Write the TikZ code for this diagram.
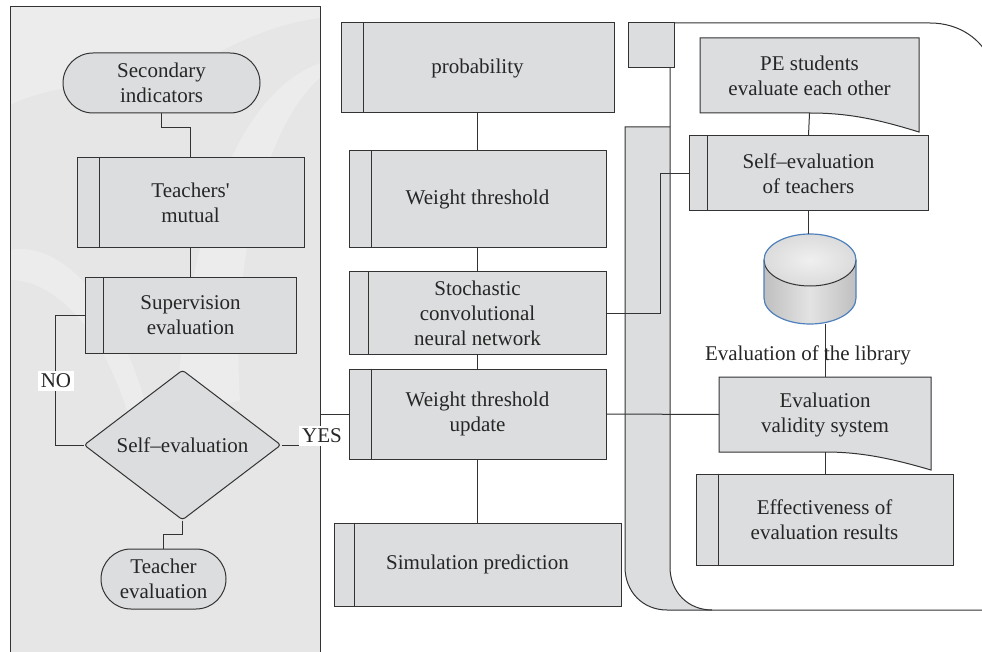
\documentclass[tikz,border=0pt]{standalone}
\usepackage{fontspec}
\setmainfont{Liberation Serif}[Ligatures=TeXOff]
\usetikzlibrary{calc,shapes.geometric}
\definecolor{linec}{HTML}{333333}
\definecolor{boxc}{HTML}{DCDDDF}
\definecolor{panelc}{HTML}{E6E6E6}
\definecolor{swc}{HTML}{ECECEC}
\definecolor{cylblue}{HTML}{4F81BD}
\tikzset{
  every node/.style={font=\fontsize{21}{25}\selectfont, text=black!85},
  ln/.style={draw=linec, line width=1pt},
  procbox/.style={ln, fill=boxc, rectangle, inner sep=0pt, align=center},
  termbox/.style={ln, fill=boxc, rectangle, rounded corners=30pt, inner sep=0pt, align=center},
  decbox/.style={ln, fill=boxc, diamond, aspect=1.31, inner sep=0pt, rounded corners=3pt, align=center},
  plain/.style={inner sep=0pt, align=center},
  lbl/.style={fill=white, inner sep=3pt},
  conn/.style={ln}
}
\begin{document}
\begin{tikzpicture}[x=1pt,y=-1pt]
\clip (0,0) rectangle (982,652);
\fill[white] (0,0) rectangle (982,652);
% left panel
\fill[panelc] (10,7) rectangle (320,670);
\begin{scope}
\clip (10,7) rectangle (320,670);
\fill[swc] (10,7) -- (10,105) .. controls (50,85) and (110,80) .. (150,95) .. controls (200,60) and (260,25) .. (320,18) -- (320,7) -- cycle;
\fill[swc] (175,420) .. controls (190,200) and (250,80) .. (330,60) -- (330,70) .. controls (270,110) and (230,250) .. (240,400) -- cycle;
\fill[swc] (10,250) .. controls (60,240) and (120,300) .. (150,420) -- (130,420) .. controls (100,320) and (50,280) .. (10,280) -- cycle;
\end{scope}
\draw[ln] (10,670) -- (10,7) -- (320,7) -- (320,670);
% right frame
\fill[boxc] (625,127) -- (670,127) -- (670,567) .. controls (670,592) and (688,610) .. (712,610) -- (667,610) .. controls (643,610) and (625,592) .. (625,567) -- cycle;
\draw[ln] (670,127) -- (625,127) -- (625,567) .. controls (625,592) and (643,610) .. (667,610) -- (990,610);
\draw[ln] (670,68) -- (670,567) .. controls (670,592) and (688,610) .. (712,610);
\draw[ln] (674,23) -- (930,23) .. controls (960,23) and (982,40) .. (990,60);
\draw[ln, fill=boxc] (628,23) rectangle (674,68);
% left column nodes
\node[termbox, minimum width=197pt, minimum height=60pt] (sec) at (161.5,83) {Secondary\\indicators};
\node[procbox, minimum width=227pt, minimum height=90pt] (tm) at (190.5,203) {Teachers'\\mutual};
\node[procbox, minimum width=211pt, minimum height=75pt] (sup) at (190.5,315.5) {Supervision\\evaluation};
\node[decbox, minimum width=197pt, minimum height=150pt] (self) at (182.5,445) {Self–evaluation};
\node[termbox, minimum width=125pt, minimum height=60pt] (teach) at (163.5,579) {Teacher\\evaluation};
% middle column
\node[procbox, minimum width=273pt, minimum height=90pt] (prob) at (477.5,68) {probability};
\node[procbox, minimum width=257pt, minimum height=97pt] (wt) at (477.5,199.5) {Weight threshold};
\node[procbox, minimum width=257pt, minimum height=82pt] (scnn) at (477.5,313) {Stochastic\\convolutional\\neural network};
\node[procbox, minimum width=257pt, minimum height=90pt] (wtu) at (477.5,414) {Weight threshold\\update};
\node[procbox, minimum width=287pt, minimum height=83pt] (sim) at (477.5,564.5) {Simulation prediction};
% right column
\draw[ln, fill=boxc] (700,38) -- (919,38) -- (919,132) .. controls (880,120) and (850,113) .. (810,113) -- (700,113) -- cycle;
\node[plain, minimum width=219pt, minimum height=75pt] (pe) at (809.5,75.5) {PE students\\evaluate each other};
\node[procbox, minimum width=239pt, minimum height=75pt] (setch) at (808.5,173.5) {Self–evaluation\\of teachers};
% cylinder
\shade[left color=gray!50, right color=gray!50, middle color=gray!22] (764,260) -- (764,298) arc[start angle=180, end angle=0, x radius=46, y radius=26] -- (856,260) -- cycle;
\shade[inner color=gray!12, outer color=gray!28] (810,260) ellipse[x radius=46, y radius=26];
\draw[linec, line width=1pt] (764,260) arc[start angle=180, end angle=0, x radius=46, y radius=26];
\draw[cylblue, line width=1.2pt] (764,260) -- (764,298) arc[start angle=180, end angle=0, x radius=46, y radius=26] -- (856,260) arc[start angle=0, end angle=-180, x radius=46, y radius=26];
\node[plain, minimum width=92pt, minimum height=90pt] (db) at (810,279) {};
\draw[ln, fill=boxc] (719,377) -- (931,377) -- (931,470) .. controls (890,458) and (860,452) .. (825,452) -- (719,452) -- cycle;
\node[plain, minimum width=212pt, minimum height=75pt] (evs) at (825,414.5) {Evaluation\\validity system};
\node[procbox, minimum width=257pt, minimum height=91pt] (eff) at (824.5,519.5) {Effectiveness of\\evaluation results};
% dividers
\foreach \n/\d in {tm/23, sup/19, prob/23, wt/23, scnn/20, wtu/23, sim/21, setch/19, eff/23}
  \draw[ln] ($(\n.north west)+(\d,0)$) -- ($(\n.south west)+(\d,0)$);
% connectors
\draw[conn] (sec.south) -- ++(0,14) -| (tm.north);
\draw[conn] (tm.south) -- (sup.north);
\draw[conn] (sup.west) -- ++(-29,0) |- (self.west);
\draw[conn] (self.south) -- ++(0,14) -| (teach.north);
\draw[conn] (self.east) -- (320,445) |- (wtu.west);
\draw[conn] (prob.south) -- (wt.north);
\draw[conn] (wt.south) -- (scnn.north);
\draw[conn] (scnn.south) -- (wtu.north);
\draw[conn] (wtu.south) -- (sim.north);
\draw[conn] (scnn.east) -- (660,313) |- (setch.west);
\draw[conn] (pe.south) -- (setch.north);
\draw[conn] (setch.south) -- (setch.south |- db.north);
\draw[conn] (evs.north) -- (evs.north |- db.south);
\draw[conn] (wtu.east) -- (evs.west);
\draw[conn] (evs.south) -- (evs.south |- eff.north);
% labels
\node[lbl] (no) at (56,381) {NO};
\node[lbl] (yes) at (322,436) {YES};
\node[plain] (lib) at (808,355) {Evaluation of the library};
\end{tikzpicture}
\end{document}
